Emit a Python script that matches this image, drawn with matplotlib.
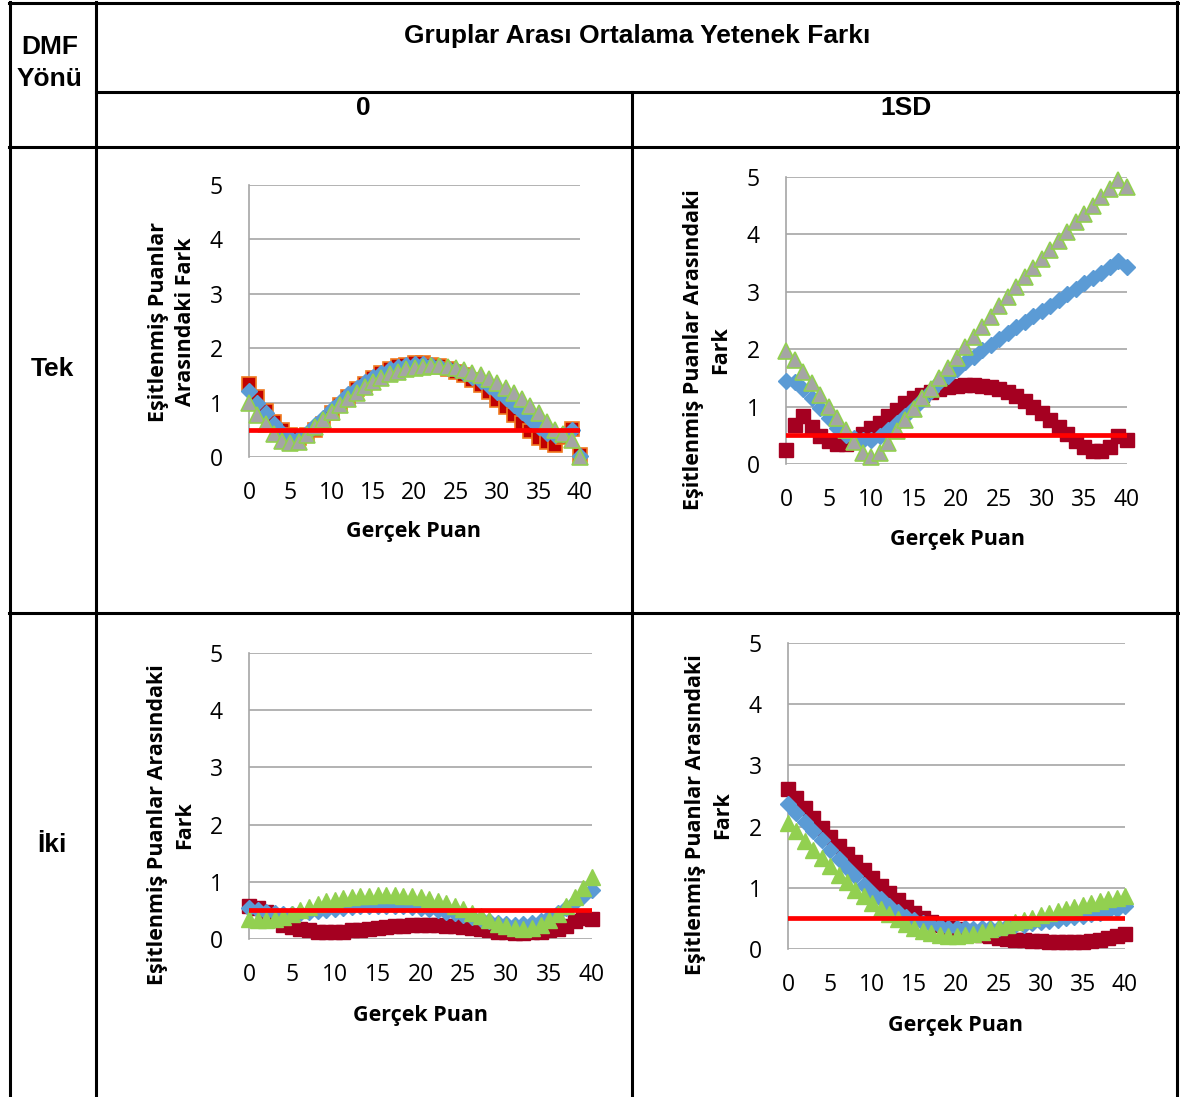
import numpy as np
import matplotlib
matplotlib.use("Agg")
import matplotlib.pyplot as plt
from matplotlib.lines import Line2D

plt.rcParams['font.family'] = ['Open Sans', 'DejaVu Sans']

x = np.arange(0, 41)
cutoff = 0.5

# Tek, 0
tl_square = [1.35, 1.1, 0.85, 0.65, 0.5, 0.4, 0.35, 0.4, 0.5, 0.6, 0.8, 0.95, 1.1, 1.25, 1.35, 1.45, 1.55,
             1.62, 1.67, 1.7, 1.72, 1.72, 1.7, 1.67, 1.62, 1.57, 1.5, 1.42, 1.32, 1.2, 1.05, 0.92, 0.78,
             0.62, 0.48, 0.35, 0.27, 0.22, 0.37, 0.52, 0.03]
tl_diamond = [1.22, 1.0, 0.8, 0.6, 0.45, 0.35, 0.35, 0.45, 0.58, 0.72, 0.88, 1.02, 1.15, 1.27, 1.38, 1.47,
              1.55, 1.61, 1.66, 1.69, 1.71, 1.71, 1.7, 1.68, 1.64, 1.6, 1.54, 1.47, 1.39, 1.3, 1.2, 1.09,
              0.96, 0.83, 0.69, 0.55, 0.45, 0.4, 0.42, 0.5, 0.02]
tl_triangle = [1.0, 0.78, 0.6, 0.42, 0.3, 0.25, 0.28, 0.4, 0.55, 0.68, 0.82, 0.95, 1.07, 1.18, 1.28, 1.37,
               1.45, 1.52, 1.57, 1.61, 1.64, 1.66, 1.67, 1.67, 1.66, 1.63, 1.6, 1.55, 1.5, 1.43, 1.36,
               1.27, 1.17, 1.06, 0.93, 0.8, 0.65, 0.5, 0.42, 0.32, 0.0]

# Tek, 1SD
tr_square = [0.25, 0.68, 0.83, 0.65, 0.48, 0.4, 0.35, 0.35, 0.42, 0.53, 0.62, 0.71, 0.83, 0.94, 1.06, 1.15,
             1.2, 1.26, 1.3, 1.34, 1.36, 1.37, 1.37, 1.36, 1.34, 1.3, 1.26, 1.19, 1.1, 1.0, 0.88, 0.77,
             0.65, 0.53, 0.4, 0.29, 0.22, 0.22, 0.3, 0.48, 0.42]
tr_diamond = [1.44, 1.42, 1.3, 1.15, 0.97, 0.8, 0.62, 0.5, 0.45, 0.42, 0.42, 0.49, 0.59, 0.71, 0.83, 0.97,
              1.12, 1.27, 1.42, 1.54, 1.65, 1.77, 1.87, 1.98, 2.08, 2.18, 2.28, 2.38, 2.47, 2.57, 2.67,
              2.76, 2.86, 2.96, 3.05, 3.15, 3.24, 3.33, 3.43, 3.53, 3.43]
tr_triangle = [1.96, 1.82, 1.61, 1.41, 1.2, 0.99, 0.8, 0.59, 0.39, 0.2, 0.12, 0.2, 0.37, 0.58, 0.77, 0.95,
               1.15, 1.31, 1.5, 1.67, 1.84, 2.04, 2.22, 2.39, 2.56, 2.75, 2.91, 3.08, 3.26, 3.41, 3.57,
               3.73, 3.88, 4.04, 4.21, 4.35, 4.49, 4.65, 4.79, 4.94, 4.83]

# İki, 0
bl_square = [0.57, 0.54, 0.48, 0.34, 0.25, 0.21, 0.18, 0.15, 0.13, 0.13, 0.13, 0.13, 0.15, 0.16, 0.18, 0.2,
             0.21, 0.22, 0.23, 0.24, 0.24, 0.24, 0.24, 0.23, 0.22, 0.21, 0.19, 0.17, 0.15, 0.13, 0.12,
             0.11, 0.11, 0.12, 0.13, 0.15, 0.18, 0.23, 0.31, 0.37, 0.35]
bl_diamond = [0.55, 0.5, 0.47, 0.45, 0.44, 0.44, 0.45, 0.47, 0.49, 0.51, 0.53, 0.55, 0.56, 0.57, 0.58, 0.58,
              0.58, 0.58, 0.57, 0.56, 0.55, 0.53, 0.51, 0.48, 0.45, 0.42, 0.38, 0.35, 0.31, 0.28, 0.26,
              0.25, 0.26, 0.28, 0.32, 0.38, 0.46, 0.55, 0.65, 0.76, 0.85]
bl_triangle = [0.35, 0.33, 0.33, 0.35, 0.38, 0.43, 0.5, 0.56, 0.62, 0.66, 0.69, 0.72, 0.74, 0.75, 0.76, 0.77,
               0.77, 0.77, 0.76, 0.75, 0.73, 0.7, 0.67, 0.63, 0.58, 0.52, 0.46, 0.4, 0.33, 0.27, 0.22,
               0.19, 0.18, 0.2, 0.25, 0.33, 0.44, 0.57, 0.73, 0.9, 1.08]

# İki, 1SD
br_square = [2.61, 2.47, 2.3, 2.14, 1.98, 1.83, 1.69, 1.56, 1.42, 1.29, 1.16, 1.03, 0.92, 0.8, 0.69, 0.59,
             0.51, 0.44, 0.39, 0.34, 0.32, 0.29, 0.26, 0.23, 0.21, 0.18, 0.16, 0.15, 0.14, 0.13, 0.13,
             0.12, 0.11, 0.11, 0.11, 0.12, 0.13, 0.15, 0.18, 0.22, 0.25]
br_diamond = [2.37, 2.22, 2.07, 1.92, 1.78, 1.62, 1.47, 1.32, 1.19, 1.05, 0.92, 0.81, 0.7, 0.6, 0.52, 0.47,
              0.42, 0.39, 0.37, 0.35, 0.34, 0.34, 0.33, 0.34, 0.34, 0.35, 0.37, 0.39, 0.4, 0.42, 0.44,
              0.46, 0.48, 0.5, 0.52, 0.54, 0.57, 0.59, 0.62, 0.65, 0.7]
br_triangle = [2.06, 1.92, 1.77, 1.62, 1.49, 1.35, 1.21, 1.09, 0.97, 0.86, 0.75, 0.65, 0.57, 0.49, 0.41, 0.35,
               0.3, 0.26, 0.23, 0.22, 0.22, 0.23, 0.25, 0.28, 0.32, 0.36, 0.4, 0.44, 0.47, 0.51, 0.55,
               0.59, 0.62, 0.65, 0.69, 0.72, 0.75, 0.78, 0.81, 0.83, 0.86]

W, H = 1180, 1097
fig = plt.figure(figsize=(W / 100, H / 100), dpi=100)


def fx(p):
    return p / W


def fy(p):
    return 1 - p / H


def hline(y, x0, x1):
    fig.add_artist(Line2D([fx(x0), fx(x1)], [fy(y), fy(y)], color='black', lw=2.2))


def vline(x_, y0, y1):
    fig.add_artist(Line2D([fx(x_), fx(x_)], [fy(y0), fy(y1)], color='black', lw=2.2))


# table grid
hline(3, 9, 1178)
hline(92, 96, 1178)
hline(147, 9, 1178)
hline(613, 9, 1178)
vline(10, 2, 1097)
vline(96, 2, 1097)
vline(632, 92, 1097)
vline(1177, 2, 1097)

hfont = dict(family=['Liberation Sans', 'DejaVu Sans'], weight='bold', fontsize=19)
fig.text(fx(50), fy(63), "DMF\nYönü", ha='center', va='center', linespacing=1.4, **hfont)
fig.text(fx(637), fy(36), "Gruplar Arası Ortalama Yetenek Farkı", ha='center', va='center', **hfont)
fig.text(fx(363), fy(108), "0", ha='center', va='center', **hfont)
fig.text(fx(906), fy(108), "1SD", ha='center', va='center', **hfont)
fig.text(fx(52), fy(369), "Tek", ha='center', va='center', **hfont)
fig.text(fx(52), fy(845), "İki", ha='center', va='center', **hfont)

panels = [
    # (left, top, right, bottom px), data, ylabel, ylabel center, xlabel center, style
    ((249, 185, 580, 457), (tl_square, tl_diamond, tl_triangle),
     "Eşitlenmiş Puanlar\nArasındaki Fark", (172, 322), (414, 532), 'tl'),
    ((786, 177, 1127, 464), (tr_square, tr_diamond, tr_triangle),
     "Eşitlenmiş Puanlar Arasındaki\nFark", (707, 350), (957, 540), 'tr'),
    ((249, 653, 592, 939), (bl_square, bl_diamond, bl_triangle),
     "Eşitlenmiş Puanlar Arasındaki\nFark", (171, 825), (420, 1015), 'b'),
    ((788, 643, 1125, 949), (br_square, br_diamond, br_triangle),
     "Eşitlenmiş Puanlar Arasındaki\nFark", (709, 815), (956, 1025), 'b'),
]

for (l, t, r, b), (sq, di, tri), ylab, (ylx, yly), (xlx, xly), style in panels:
    ax = fig.add_axes([fx(l), fy(b), fx(r - l), (b - t) / H])
    ax.set_xlim(0, 40)
    ax.set_ylim(0, 5)
    ax.set_xticks(range(0, 41, 5))
    ax.set_yticks(range(0, 6))
    ax.grid(axis='y', color='#a6a6a6', lw=1.2)
    ax.set_axisbelow(True)
    for s in ['top', 'right', 'bottom']:
        ax.spines[s].set_visible(False)
    ax.spines['left'].set_color('#a6a6a6')
    ax.spines['left'].set_linewidth(1.2)
    ax.tick_params(length=0, labelsize=16.5)
    ax.tick_params(axis='x', pad=17)
    ax.tick_params(axis='y', pad=19)

    if style == 'tl':
        sq_kw = dict(color='#c00000', mec='#f07a20', mew=1.2)
        di_kw = dict(color='#5b9bd5', mec='#5b9bd5')
        tr_kw = dict(color='#a5a5a5', mec='#92d050', mew=1.2)
    elif style == 'tr':
        sq_kw = dict(color='#a50021', mec='#a50021')
        di_kw = dict(color='#5b9bd5', mec='#5b9bd5')
        tr_kw = dict(color='#a5a5a5', mec='#92d050', mew=1.2)
    else:
        sq_kw = dict(color='#a50021', mec='#a50021')
        di_kw = dict(color='#5b9bd5', mec='#5b9bd5')
        tr_kw = dict(color='#92d050', mec='#92d050')

    ax.plot(x, sq, 's', ms=10, clip_on=False, zorder=3, **sq_kw)
    ax.plot(x, di, 'D', ms=8, clip_on=False, zorder=4, **di_kw)
    ax.plot(x, tri, '^', ms=11, clip_on=False, zorder=5, **tr_kw)
    ax.plot([0, 40], [cutoff, cutoff], color='#ff0000', lw=3.4, zorder=6)

    ax.set_ylabel(ylab, fontsize=15.5, fontweight='bold', linespacing=1.4)
    ax.yaxis.set_label_coords((ylx - l) / (r - l), (b - yly) / (b - t))
    ax.set_xlabel("Gerçek Puan", fontsize=15.5, fontweight='bold')
    ax.xaxis.set_label_coords((xlx - l) / (r - l), (b - xly) / (b - t))
    ax.xaxis.label.set_va('center')
    ax.yaxis.label.set_va('center')

fig.savefig("out.png", dpi=100)
